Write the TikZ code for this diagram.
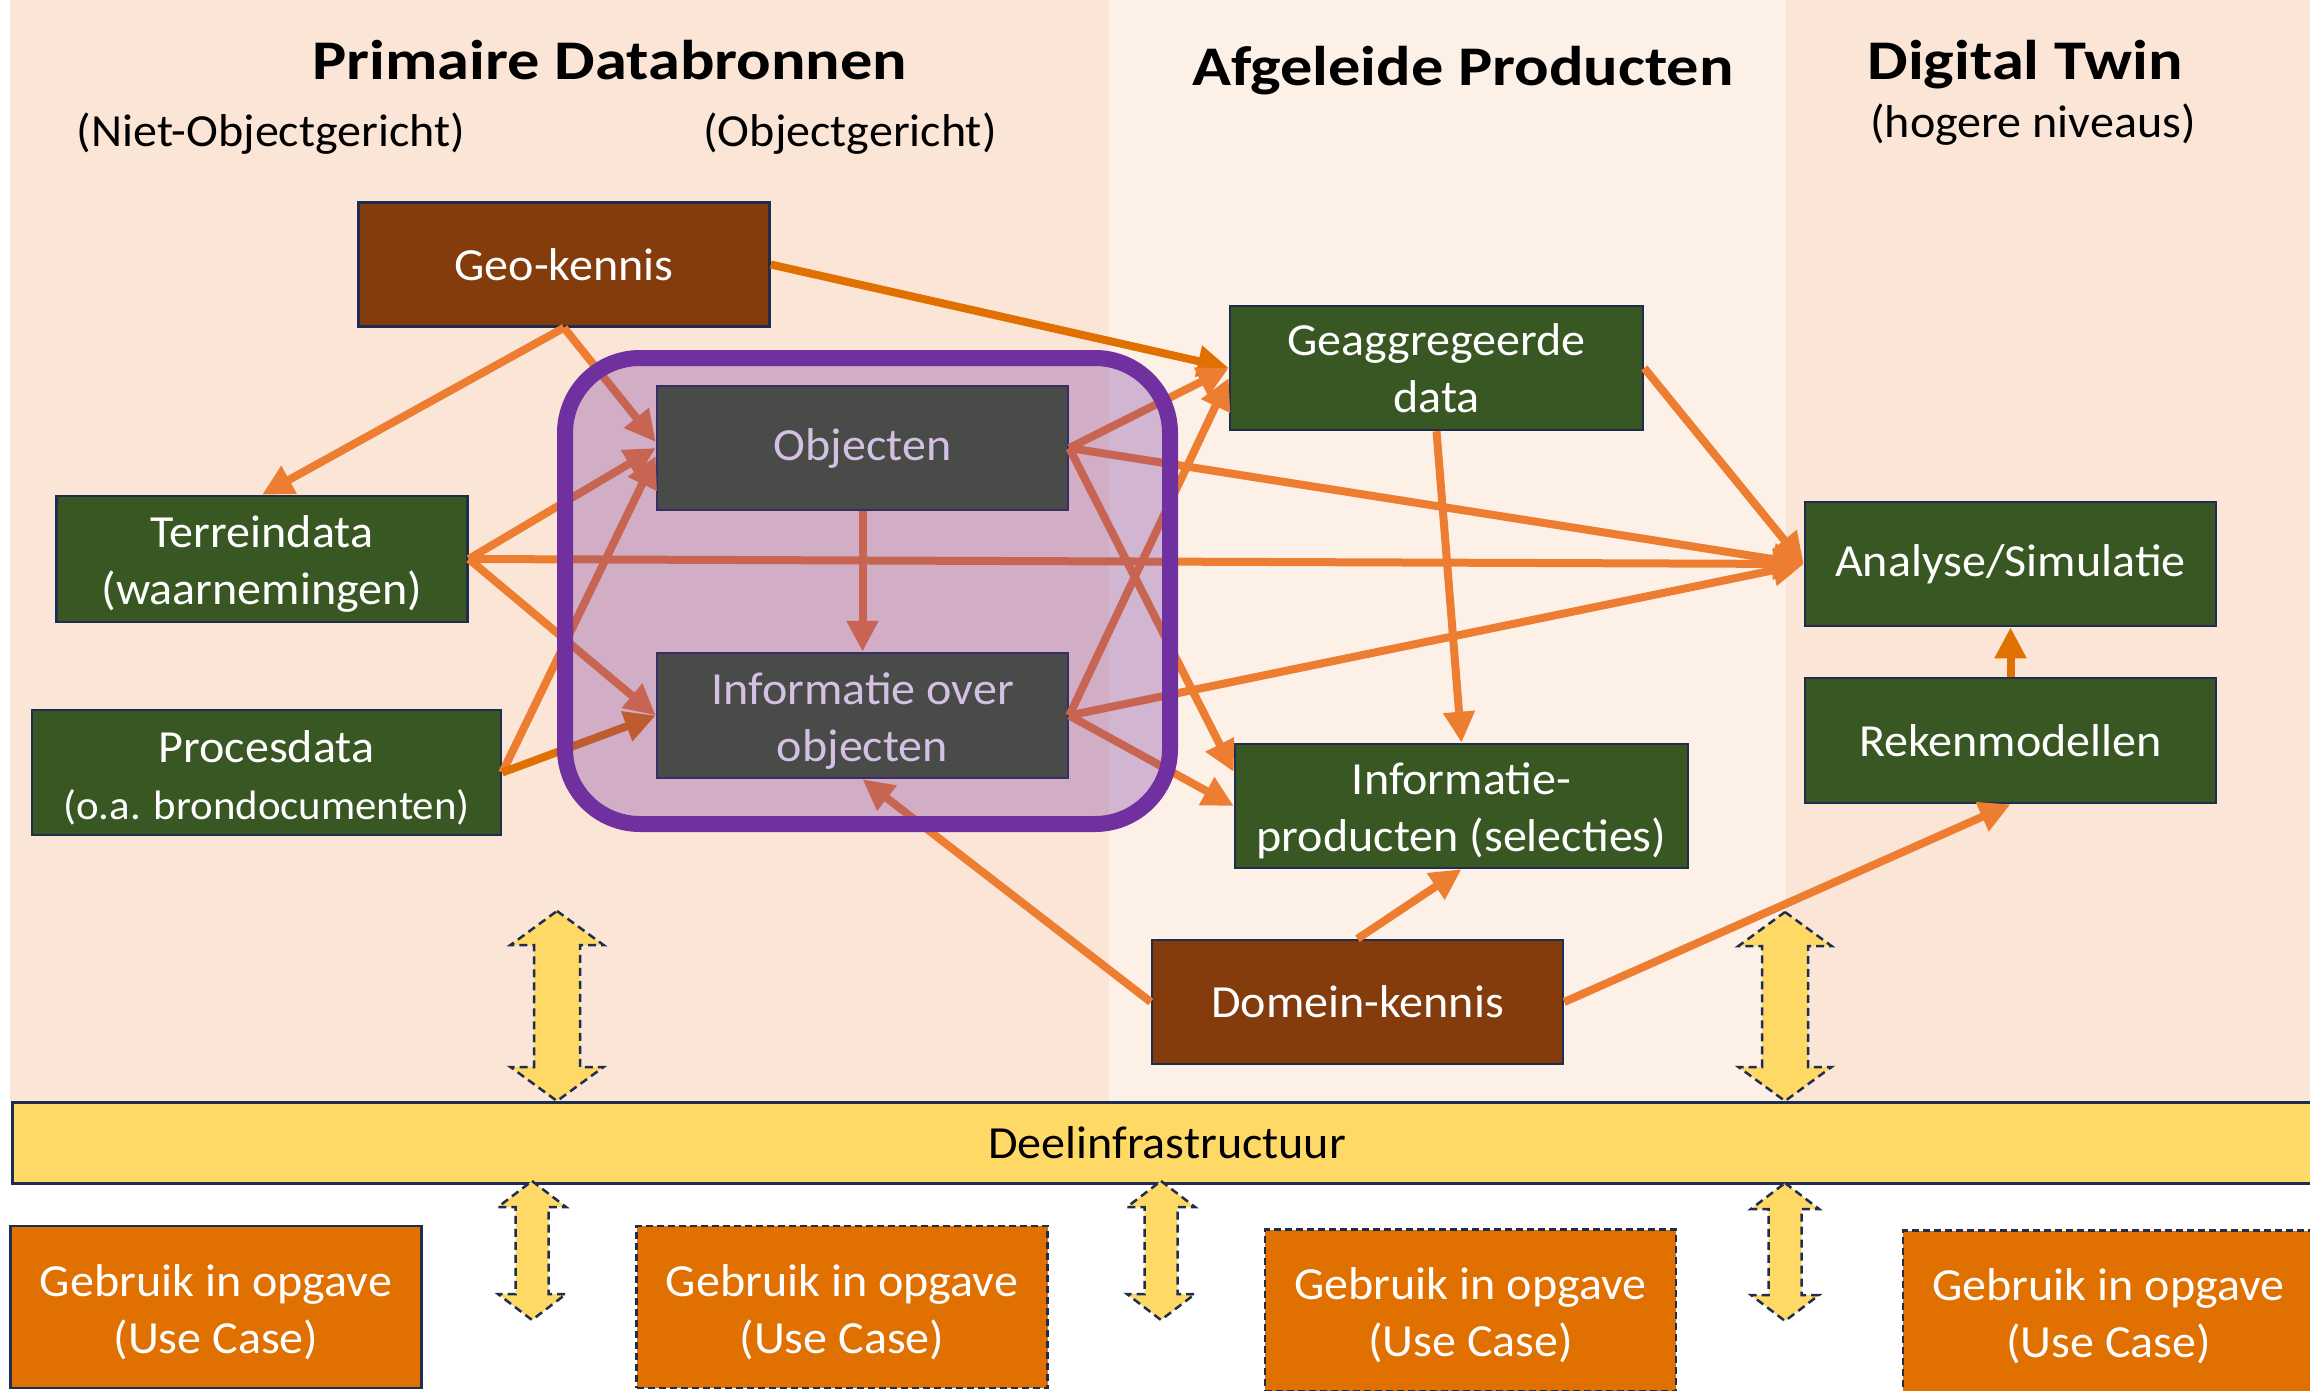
\documentclass[tikz,border=0pt]{standalone}
\usepackage{fontspec}
\setmainfont{Carlito}[FakeStretch=1.045]
\newfontfamily\hdrfont{Carlito}[FakeStretch=1.15]
\usetikzlibrary{arrows.meta,calc}
\definecolor{bgA}{HTML}{FBE5D6}
\definecolor{bgB}{HTML}{FDF0E7}
\definecolor{grn}{HTML}{385723}
\definecolor{brn}{HTML}{843C0C}
\definecolor{navy}{HTML}{1F2D4F}
\definecolor{org}{HTML}{ED7D31}
\definecolor{dorg}{HTML}{E07000}
\definecolor{ucorg}{HTML}{E07000}
\definecolor{purp}{HTML}{7030A0}
\definecolor{yel}{HTML}{FFD966}
\newcommand\tstr{\rule{0pt}{42pt}}
\newcommand\ydbl[6]{%
  \filldraw[ydash] (#1,#2) -- ({#1+#5},{#2+#6}) -- ({#1+#4},{#2+#6}) -- ({#1+#4},{#3-#6}) -- ({#1+#5},{#3-#6}) -- (#1,#3) -- ({#1-#5},{#3-#6}) -- ({#1-#4},{#3-#6}) -- ({#1-#4},{#2+#6}) -- ({#1-#5},{#2+#6}) -- cycle;}
\begin{document}
\begin{tikzpicture}[x=1pt,y=-1pt,
  txt/.style={font=\fontsize{46}{57}\selectfont, inner sep=0pt},
  hdr/.style={font=\hdrfont\bfseries\fontsize{56}{68}\selectfont, inner sep=0pt, anchor=base},
  sub/.style={txt, anchor=base},
  box/.style={draw=navy, line width=2.5pt, text=white, align=center, inner sep=0pt, font=\fontsize{46}{57}\selectfont},
  gbox/.style={box, fill=grn, minimum width=411pt, minimum height=124pt},
  bbox/.style={box, fill=brn, minimum width=411pt, minimum height=124pt},
  ucbox/.style={box, fill=ucorg, minimum width=411pt, minimum height=162pt},
  dashedbox/.style={dash pattern=on 7pt off 4pt},
  conn/.style={draw=org, line width=8pt, -{Triangle[length=31pt,width=30pt]}},
  dconn/.style={conn, draw=dorg},
  ydash/.style={fill=yel, draw=navy, line width=2.5pt, dash pattern=on 8pt off 5pt}
]
\useasboundingbox (0,0) rectangle (2310,1391);
\clip (0,0) rectangle (2310,1391);
\fill[white] (0,0) rectangle (2310,1391);
% panels
\fill[bgA] (10,0) rectangle (1109,1102);
\fill[bgB] (1109,0) rectangle (1786,1102);
\fill[bgA] (1786,0) rectangle (2310,1102);
% headers
\node[hdr] (h1) at (610,80) {Primaire Databronnen};
\node[sub] (s1) at (271,147) {(Niet-Objectgericht)};
\node[sub] (s2) at (850,147) {(Objectgericht)};
\node[hdr] (h2) at (1463,86) {Afgeleide Producten};
\node[hdr] (h3) at (2025,80) {Digital Twin};
\node[sub] (s3) at (2033,138) {(hogere niveaus)};
% bar
\node[draw=navy, line width=3pt, fill=yel, minimum width=2310pt, minimum height=81pt, txt, text=black] (bar) at (1167,1143) {Deelinfrastructuur};
% yellow arrows
\ydbl{557}{911}{1101}{23}{46.5}{34}
\ydbl{1785}{912}{1101}{23}{46.5}{34}
\ydbl{532}{1181}{1320}{16.5}{34}{26}
\ydbl{1161}{1181}{1320}{16.5}{34}{26}
\ydbl{1785}{1183}{1321}{16.5}{34}{26}
% use cases
\node[ucbox] (uc1) at (216,1307) {\tstr Gebruik in opgave\\(Use Case)};
\node[ucbox, dashedbox] (uc2) at (842,1307) {\tstr Gebruik in opgave\\(Use Case)};
\node[ucbox, dashedbox] (uc3) at (1470.5,1310.5) {\tstr Gebruik in opgave\\(Use Case)};
\node[ucbox, dashedbox] (uc4) at (2108.5,1311.5) {\tstr Gebruik in opgave\\(Use Case)};
% boxes
\node[bbox] (geo) at (564,264.5) {Geo-kennis};
\node[gbox, minimum height=126pt] (terrein) at (262,559) {\tstr Terreindata\\(waarnemingen)};
\node[gbox, minimum width=469pt, minimum height=125pt] (proces) at (266.5,772.5) {\tstr Procesdata\\{\fontsize{41}{57}\selectfont (o.a. brondocumenten)}};
\node[gbox] (obj) at (862.5,448) {Objecten};
\node[gbox, minimum height=125pt] (info) at (862.5,715.5) {\tstr Informatie over\\objecten};
\node[gbox, minimum width=413pt] (geagg) at (1436.5,368) {Geaggregeerde\\data};
\node[gbox, minimum width=453pt] (infoprod) at (1461.5,806) {\tstr Informatie-\\producten (selecties)};
\node[bbox] (domein) at (1357.5,1002) {Domein-kennis};
\node[gbox] (analyse) at (2010.5,564) {Analyse/Simulatie};
\node[gbox, minimum height=125pt] (reken) at (2010.5,740.5) {Rekenmodellen};
% connectors
\draw[dconn] (geo.east) -- (geagg.west);
\draw[conn] (geo.south) -- (terrein.north);
\draw[conn] (geo.south) -- ($(obj.west)+(0,-6)$);
\draw[conn] (terrein.east) -- (obj.west);
\draw[conn] (terrein.east) -- (info.west);
\draw[conn] (terrein.east) -- (analyse.west);
\draw[conn] (proces.east) -- ($(obj.west)+(0,8)$);
\draw[dconn] (proces.east) -- (info.west);
\draw[conn] (obj.south) -- (info.north);
\draw[conn] (obj.east) -- (geagg.west);
\draw[conn] (obj.east) -- (analyse.west);
\draw[conn] (obj.east) -- ($(infoprod.west)+(0,-34)$);
\draw[conn] (info.east) -- ($(geagg.west)+(0,10)$);
\draw[conn] (info.east) -- (analyse.west);
\draw[conn] (info.east) -- (infoprod.west);
\draw[conn] (geagg.south) -- (infoprod.north);
\draw[conn] (geagg.east) -- (analyse.west);
\draw[conn] (domein.north) -- (infoprod.south);
\draw[conn] (domein.west) -- (info.south);
\draw[conn] (domein.east) -- (reken.south);
\draw[dconn] (reken.north) -- (analyse.south);
% overlay group
\node[draw=purp, line width=16pt, fill=purp, fill opacity=0.3, draw opacity=1, rounded corners=75pt, minimum width=605pt, minimum height=466pt, inner sep=0pt, outer sep=0pt] (grp) at (867.5,591) {};
\end{tikzpicture}
\end{document}
